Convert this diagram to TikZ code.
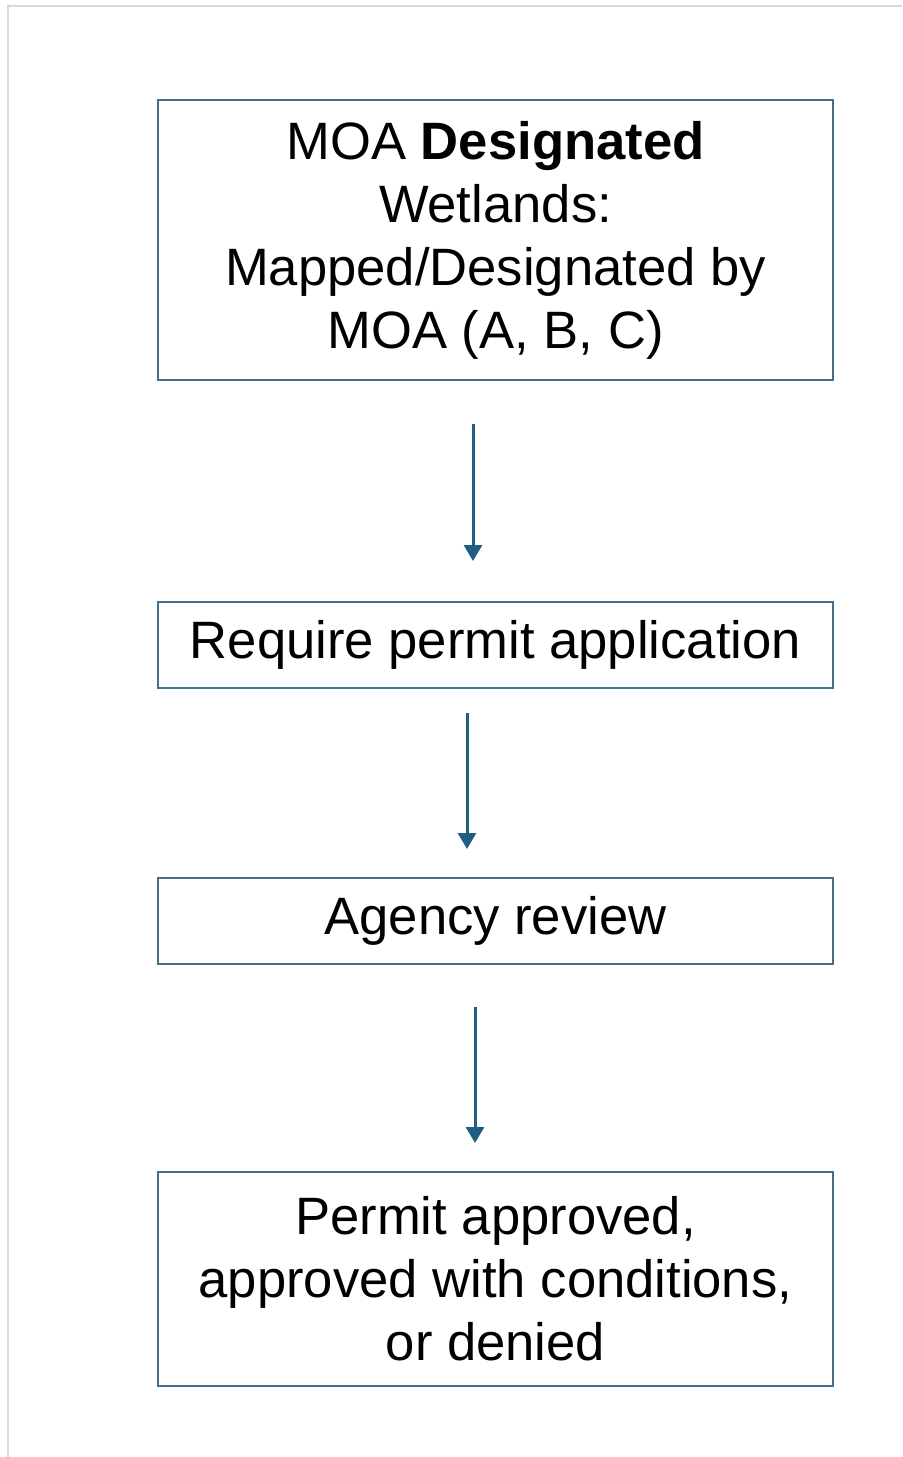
\documentclass[tikz,border=0pt]{standalone}
\usepackage{fontspec}
\setmainfont{Liberation Sans}
\usetikzlibrary{positioning, arrows.meta}
\definecolor{boxline}{HTML}{46708A}
\definecolor{arrowblue}{HTML}{1F5E80}
\definecolor{framegray}{HTML}{D9D9D9}
\tikzstyle{block} = [rectangle, minimum width=337.5pt, inner sep=0pt, text centered, align=center, draw=boxline, line width=1pt, font=\fontsize{26.3pt}{31.5pt}\selectfont]
\tikzstyle{arrow} = [draw=arrowblue, line width=1.5pt, -{Triangle[width=9pt,length=8pt]}]

\begin{document}
\begin{tikzpicture}[node distance=100pt]
\useasboundingbox (0,0) rectangle (451pt,-728.5pt);
\draw [framegray, line width=1pt] (4pt,-728.5pt) -- (4pt,-3pt) -- (451pt,-3pt);
\node (desig) [block, minimum height=140pt] at (247.75pt,-120pt) {MOA \textbf{Designated}\\Wetlands:\\Mapped/Designated by\\MOA (A, B, C)};
\node (pro1) [block, minimum height=43pt, below=110pt of desig] {Require permit application};
\node (pro2) [block, minimum height=43pt, below=94pt of pro1] {Agency review};
\node (result) [block, minimum height=107pt, below=103pt of pro2] {Permit approved,\\approved with conditions,\\or denied};
\draw [arrow, shorten <=21.5pt, shorten >=20pt] ([xshift=-11.25pt]desig.south) -- ([xshift=-11.25pt]pro1.north);
\draw [arrow, shorten <=12pt, shorten >=14pt] ([xshift=-14.25pt]pro1.south) -- ([xshift=-14.25pt]pro2.north);
\draw [arrow, shorten <=21pt, shorten >=14pt] ([xshift=-10.25pt]pro2.south) -- ([xshift=-10.25pt]result.north);
\end{tikzpicture}
\end{document}
